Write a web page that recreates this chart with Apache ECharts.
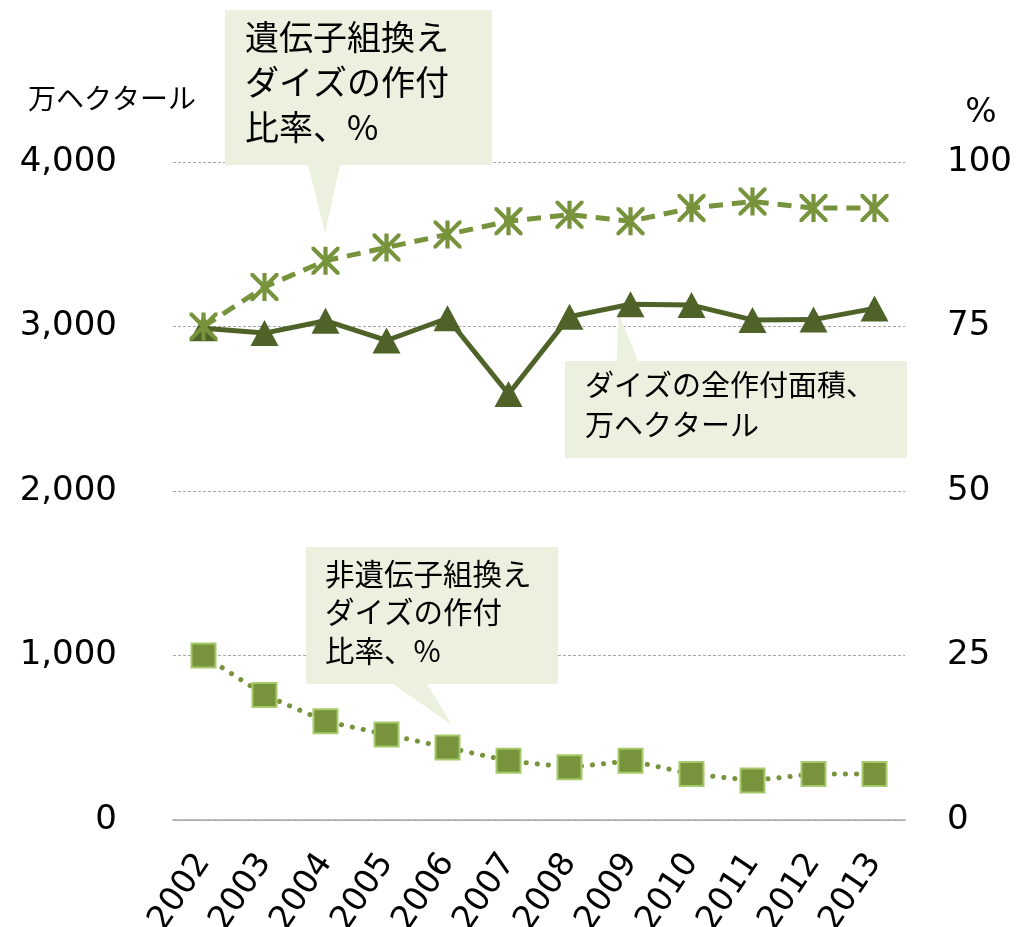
<!DOCTYPE html>
<html>
<head>
<meta charset="utf-8">
<script src="https://cdn.jsdelivr.net/npm/echarts/dist/echarts.min.js"></script>
<style>
html,body{margin:0;padding:0;background:#fff;}
#chart{width:1017px;height:927px;}
</style>
</head>
<body>
<div id="chart"></div>
<script>
// ---- data ----
const years = ['2002','2003','2004','2005','2006','2007','2008','2009','2010','2011','2012','2013'];
const totalArea = [2990, 2960, 3035, 2915, 3050, 2590, 3060, 3135, 3130, 3040, 3042, 3110]; // 万ヘクタール
const gmShare = [75, 81, 85, 87, 89, 91, 92, 91, 93, 94, 93, 93];   // %
const nonGmShare = [25, 19, 15, 13, 11, 9, 8, 9, 7, 6, 7, 7];       // %
const leftTicks = [0, 1000, 2000, 3000, 4000];
const rightTicks = [0, 25, 50, 75, 100];

const FONT = '"Noto Sans CJK JP", "Noto Sans", sans-serif';
const NUMFONT = '"DejaVu Sans", "Noto Sans CJK JP", sans-serif';
const asterisk = 'path://M42.5,0L57.5,0L57.5,100L42.5,100Z M0,0L10.6,0L100,89.4L100,100L89.4,100L0,10.6Z M100,0L100,10.6L10.6,100L0,100L0,89.4L89.4,0Z';
const calloutFill = '#EBF1DE';

const chart = echarts.init(document.getElementById('chart'), null, {renderer: 'canvas'});
const option = {
  animation: false,
  backgroundColor: '#ffffff',
  textStyle: {fontFamily: FONT},
  grid: {left: 173, right: 112, top: 162, bottom: 107, containLabel: false, outerBoundsMode: 'none'},
  xAxis: {
    type: 'category',
    data: years,
    boundaryGap: true,
    axisLine: {lineStyle: {color: '#A6A6A6', width: 1.5}},
    axisTick: {show: false},
    axisLabel: {rotate: 56, fontSize: 33, color: '#000', margin: 37, fontFamily: NUMFONT, interval: 0}
  },
  yAxis: [
    {
      type: 'value',
      min: leftTicks[0], max: leftTicks[leftTicks.length - 1], interval: 1000,
      axisLine: {show: false}, axisTick: {show: false},
      splitLine: {lineStyle: {color: '#A6A6A6', width: 1, type: [3, 2]}},
      axisLabel: {fontSize: 34, color: '#000', margin: 56, fontFamily: NUMFONT,
        padding: [0, 0, 8, 0],
        formatter: v => v.toLocaleString('en-US')}
    },
    {
      type: 'value', position: 'right',
      min: rightTicks[0], max: rightTicks[rightTicks.length - 1], interval: 25,
      axisLine: {show: false}, axisTick: {show: false},
      splitLine: {show: false},
      axisLabel: {fontSize: 34, color: '#000', margin: 42, fontFamily: NUMFONT, padding: [0, 0, 8, 0]}
    }
  ],
  series: [
    {
      name: 'ダイズの全作付面積、万ヘクタール',
      type: 'line', yAxisIndex: 0, data: totalArea,
      symbol: 'triangle', symbolSize: [28, 26],
      itemStyle: {color: '#4F6228'},
      lineStyle: {color: '#4F6228', width: 5},
      z: 2
    },
    {
      name: '遺伝子組換えダイズの作付比率、%',
      type: 'line', yAxisIndex: 1, data: gmShare,
      symbol: asterisk, symbolSize: 28,
      itemStyle: {color: '#77933C'},
      lineStyle: {color: '#77933C', width: 5, type: [14, 9]},
      z: 3
    },
    {
      name: '非遺伝子組換えダイズの作付比率、%',
      type: 'line', yAxisIndex: 1, data: nonGmShare,
      symbol: 'rect', symbolSize: 24,
      itemStyle: {color: '#77933C', borderColor: '#A6C96A', borderWidth: 2},
      lineStyle: {color: '#77933C', width: 5, type: [0.1, 11], cap: 'round'},
      z: 4
    }
  ],
  graphic: {
    elements: [
      // axis names
      {type: 'text', x: 28, y: 98, z: 5,
        style: {text: '万ヘクタール', fontSize: 28, fontFamily: FONT, fill: '#000',
          textAlign: 'left', textVerticalAlign: 'middle', align: 'left', verticalAlign: 'middle'}},
      {type: 'text', x: 981, y: 113, z: 5,
        style: {text: '%', fontSize: 33, fontFamily: NUMFONT, fill: '#000',
          textAlign: 'center', textVerticalAlign: 'middle', align: 'center', verticalAlign: 'middle'}},
      // callout: GM share
      {type: 'polygon', z: 1,
        shape: {points: [[225,10],[492,10],[492,165],[340,165],[325,233],[308,165],[225,165]]},
        style: {fill: calloutFill}},
      {type: 'text', x: 245, y: 82, z: 5,
        style: {text: '遺伝子組換え\nダイズの作付\n比率、%', fontSize: 34, lineHeight: 45, fontFamily: FONT, fill: '#000',
          textAlign: 'left', textVerticalAlign: 'middle', align: 'left', verticalAlign: 'middle'}},
      // callout: total area
      {type: 'polygon', z: 1,
        shape: {points: [[565,361],[617,361],[618,312],[638,361],[907,361],[907,458],[565,458]]},
        style: {fill: calloutFill}},
      {type: 'text', x: 585, y: 405, z: 5,
        style: {text: 'ダイズの全作付面積、\n万ヘクタール', fontSize: 29, lineHeight: 40, fontFamily: FONT, fill: '#000',
          textAlign: 'left', textVerticalAlign: 'middle', align: 'left', verticalAlign: 'middle'}},
      // callout: non-GM share
      {type: 'polygon', z: 1,
        shape: {points: [[306,547],[558,547],[558,684],[427,684],[452,725],[393,684],[306,684]]},
        style: {fill: calloutFill}},
      {type: 'text', x: 325, y: 612, z: 5,
        style: {text: '非遺伝子組換え\nダイズの作付\n比率、%', fontSize: 29.5, lineHeight: 38.5, fontFamily: FONT, fill: '#000',
          textAlign: 'left', textVerticalAlign: 'middle', align: 'left', verticalAlign: 'middle'}}
    ]
  }
};
chart.setOption(option);
</script>
</body>
</html>
